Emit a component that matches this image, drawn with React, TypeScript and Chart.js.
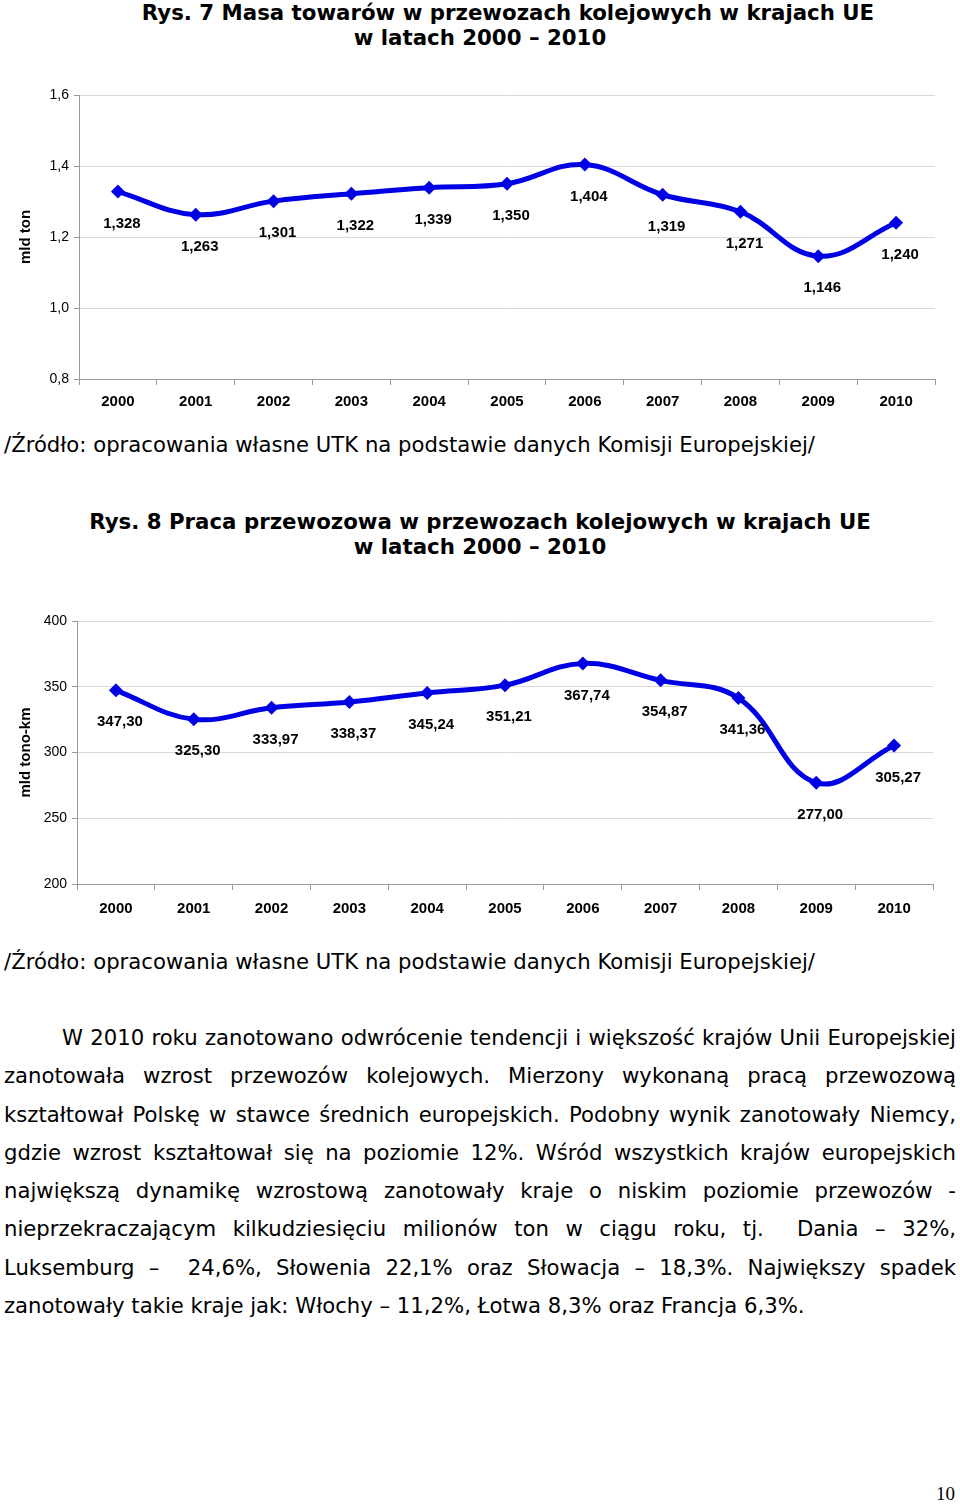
import React, { useEffect, useRef } from "react";
import { Chart, registerables } from "chart.js";

Chart.register(...registerables);

const years = ["2000", "2001", "2002", "2003", "2004", "2005", "2006", "2007", "2008", "2009", "2010"];
const massValues = [1.328, 1.263, 1.301, 1.322, 1.339, 1.35, 1.404, 1.319, 1.271, 1.146, 1.24];
const workValues = [347.3, 325.3, 333.97, 338.37, 345.24, 351.21, 367.74, 354.87, 341.36, 277.0, 305.27];

const title1 = ["Rys. 7 Masa towarów w przewozach kolejowych w krajach UE", "w latach 2000 – 2010"];
const title2 = ["Rys. 8 Praca przewozowa w przewozach kolejowych w krajach UE", "w latach 2000 – 2010"];
const sourceText = "/Źródło: opracowania własne UTK na podstawie danych Komisji Europejskiej/";
const paragraphLines = [
  "W 2010 roku zanotowano odwrócenie tendencji i większość krajów Unii Europejskiej",
  "zanotowała wzrost przewozów kolejowych. Mierzony wykonaną pracą przewozową",
  "kształtował Polskę w stawce średnich europejskich. Podobny wynik zanotowały Niemcy,",
  "gdzie wzrost kształtował się na poziomie 12%. Wśród wszystkich krajów europejskich",
  "największą dynamikę wzrostową zanotowały kraje o niskim poziomie przewozów -",
  "nieprzekraczającym kilkudziesięciu milionów ton w ciągu roku, tj.  Dania – 32%,",
  "Luksemburg –  24,6%, Słowenia 22,1% oraz Słowacja – 18,3%. Największy spadek",
  "zanotowały takie kraje jak: Włochy – 11,2%, Łotwa 8,3% oraz Francja 6,3%.",
];

const LINE_COLOR = "rgb(0,0,228)";
const CHART_FONT = '"Liberation Sans", Arial, sans-serif';
const TEXT_FONT = '"DejaVu Sans", sans-serif';

const fmt = (v: number, d: number) => v.toFixed(d).replace(".", ",");

type Cfg = {
  values: number[];
  min: number;
  max: number;
  step: number;
  tickDecimals: number;
  labelDecimals: number;
  yTitle: string;
  yWidth: number;
  xHeight: number;
  padRight: number;
  padTop: number;
  tickPad: number;
  xTickPad: number;
  labelDx: number;
  labelDy: number;
};

const labelPlugin = {
  id: "valueLabels",
  afterDatasetsDraw(chart: any) {
    const o = chart.options.plugins.valueLabels;
    const meta = chart.getDatasetMeta(0);
    const ds = chart.data.datasets[0].data as number[];
    const ctx = chart.ctx;
    ctx.save();
    ctx.font = `bold 15px ${CHART_FONT}`;
    ctx.fillStyle = "#000";
    ctx.textAlign = "center";
    ctx.textBaseline = "middle";
    meta.data.forEach((pt: any, i: number) => {
      ctx.fillText(fmt(ds[i], o.decimals), pt.x + o.dx, pt.y + o.dy);
    });
    ctx.restore();
  },
};

function LineChart({ cfg, height }: { cfg: Cfg; height: number }) {
  const ref = useRef<HTMLCanvasElement>(null);
  useEffect(() => {
    if (!ref.current) return;
    const chart = new Chart(ref.current, {
      type: "line",
      data: {
        labels: years,
        datasets: [
          {
            data: cfg.values,
            borderColor: LINE_COLOR,
            backgroundColor: LINE_COLOR,
            borderWidth: 5,
            tension: 0.4,
            pointStyle: "rectRot",
            pointRadius: 7,
            pointBorderWidth: 0,
            fill: false,
          },
        ],
      },
      plugins: [labelPlugin],
      options: {
        animation: false,
        responsive: false,
        maintainAspectRatio: false,
        layout: { padding: { left: 0, right: cfg.padRight, top: cfg.padTop, bottom: 0 } },
        plugins: {
          legend: { display: false },
          tooltip: { enabled: false },
          valueLabels: { decimals: cfg.labelDecimals, dx: cfg.labelDx, dy: cfg.labelDy },
        } as any,
        scales: {
          x: {
            offset: true,
            grid: { offset: true, drawOnChartArea: false, tickLength: 6, color: "#999" },
            border: { color: "#999" },
            ticks: { color: "#000", padding: cfg.xTickPad, font: { family: CHART_FONT, size: 15, weight: "bold" } },
            afterFit: (s: any) => {
              s.height = cfg.xHeight;
            },
          },
          y: {
            min: cfg.min,
            max: cfg.max,
            ticks: {
              stepSize: cfg.step,
              color: "#000",
              padding: cfg.tickPad,
              font: { family: CHART_FONT, size: 14 },
              callback: (v: any) => fmt(Number(v), cfg.tickDecimals),
            },
            grid: { color: "#d9d9d9", tickLength: 5, tickColor: "#999" },
            border: { color: "#999" },
            title: {
              display: true,
              text: cfg.yTitle,
              color: "#000",
              font: { family: CHART_FONT, size: 15, weight: "bold" },
              padding: { top: 17, bottom: 0 },
            },
            afterFit: (s: any) => {
              s.width = cfg.yWidth;
            },
          },
        },
      } as any,
    });
    return () => chart.destroy();
  }, [cfg]);
  return <canvas ref={ref} width={960} height={height} style={{ display: "block", width: 960, height }} />;
}

const chart1Cfg: Cfg = {
  values: massValues,
  min: 0.8,
  max: 1.6,
  step: 0.2,
  tickDecimals: 1,
  labelDecimals: 3,
  yTitle: "mld ton",
  yWidth: 79,
  xHeight: 41,
  padRight: 25,
  padTop: 15,
  tickPad: 5,
  xTickPad: 8,
  labelDx: 4,
  labelDy: 32,
};

const chart2Cfg: Cfg = {
  values: workValues,
  min: 200,
  max: 400,
  step: 50,
  tickDecimals: 0,
  labelDecimals: 2,
  yTitle: "mld tono-km",
  yWidth: 77,
  xHeight: 46,
  padRight: 27,
  padTop: 21,
  tickPad: 5,
  xTickPad: 10,
  labelDx: 4,
  labelDy: 32,
};

const titleStyle: React.CSSProperties = {
  position: "absolute",
  left: 0,
  width: 960,
  textAlign: "center",
  fontFamily: TEXT_FONT,
  fontWeight: "bold",
  fontSize: 21.3,
  lineHeight: "25px",
  color: "#000",
  whiteSpace: "pre",
};

const sourceStyle: React.CSSProperties = {
  position: "absolute",
  left: 4,
  fontFamily: TEXT_FONT,
  fontSize: 21.2,
  lineHeight: "24px",
  color: "#000",
  whiteSpace: "pre",
};

export default function App() {
  return (
    <div style={{ position: "absolute", left: 0, top: 0, width: 960, height: 1505, background: "#fff", overflow: "hidden" }}>
      <div style={{ ...titleStyle, top: 0 }}>
        <div style={{ paddingLeft: 56 }}>{title1[0]}</div>
        <div>{title1[1]}</div>
      </div>
      <div style={{ position: "absolute", left: 0, top: 80 }}>
        <LineChart cfg={chart1Cfg} height={340} />
      </div>
      <div style={{ ...sourceStyle, top: 433 }}>{sourceText}</div>

      <div style={{ ...titleStyle, top: 509 }}>
        <div>{title2[0]}</div>
        <div>{title2[1]}</div>
      </div>
      <div style={{ position: "absolute", left: 0, top: 600 }}>
        <LineChart cfg={chart2Cfg} height={330} />
      </div>
      <div style={{ ...sourceStyle, top: 950 }}>{sourceText}</div>

      <div
        style={{
          position: "absolute",
          left: 4,
          top: 1019,
          width: 952,
          fontFamily: TEXT_FONT,
          fontSize: 21.2,
          lineHeight: "38.3px",
          color: "#000",
        }}
      >
        {paragraphLines.map((line, i) => {
          const last = i === paragraphLines.length - 1;
          return (
            <div
              key={i}
              style={{
                whiteSpace: "pre",
                textAlign: last ? "left" : "justify",
                textAlignLast: last ? "left" : "justify",
                paddingLeft: i === 0 ? 58 : 0,
              }}
            >
              {line}
            </div>
          );
        })}
      </div>

      <div
        style={{
          position: "absolute",
          left: 936,
          top: 1482,
          fontFamily: '"Liberation Serif", "DejaVu Serif", serif',
          fontSize: 19,
          lineHeight: "24px",
          color: "#000",
        }}
      >
        10
      </div>
    </div>
  );
}
